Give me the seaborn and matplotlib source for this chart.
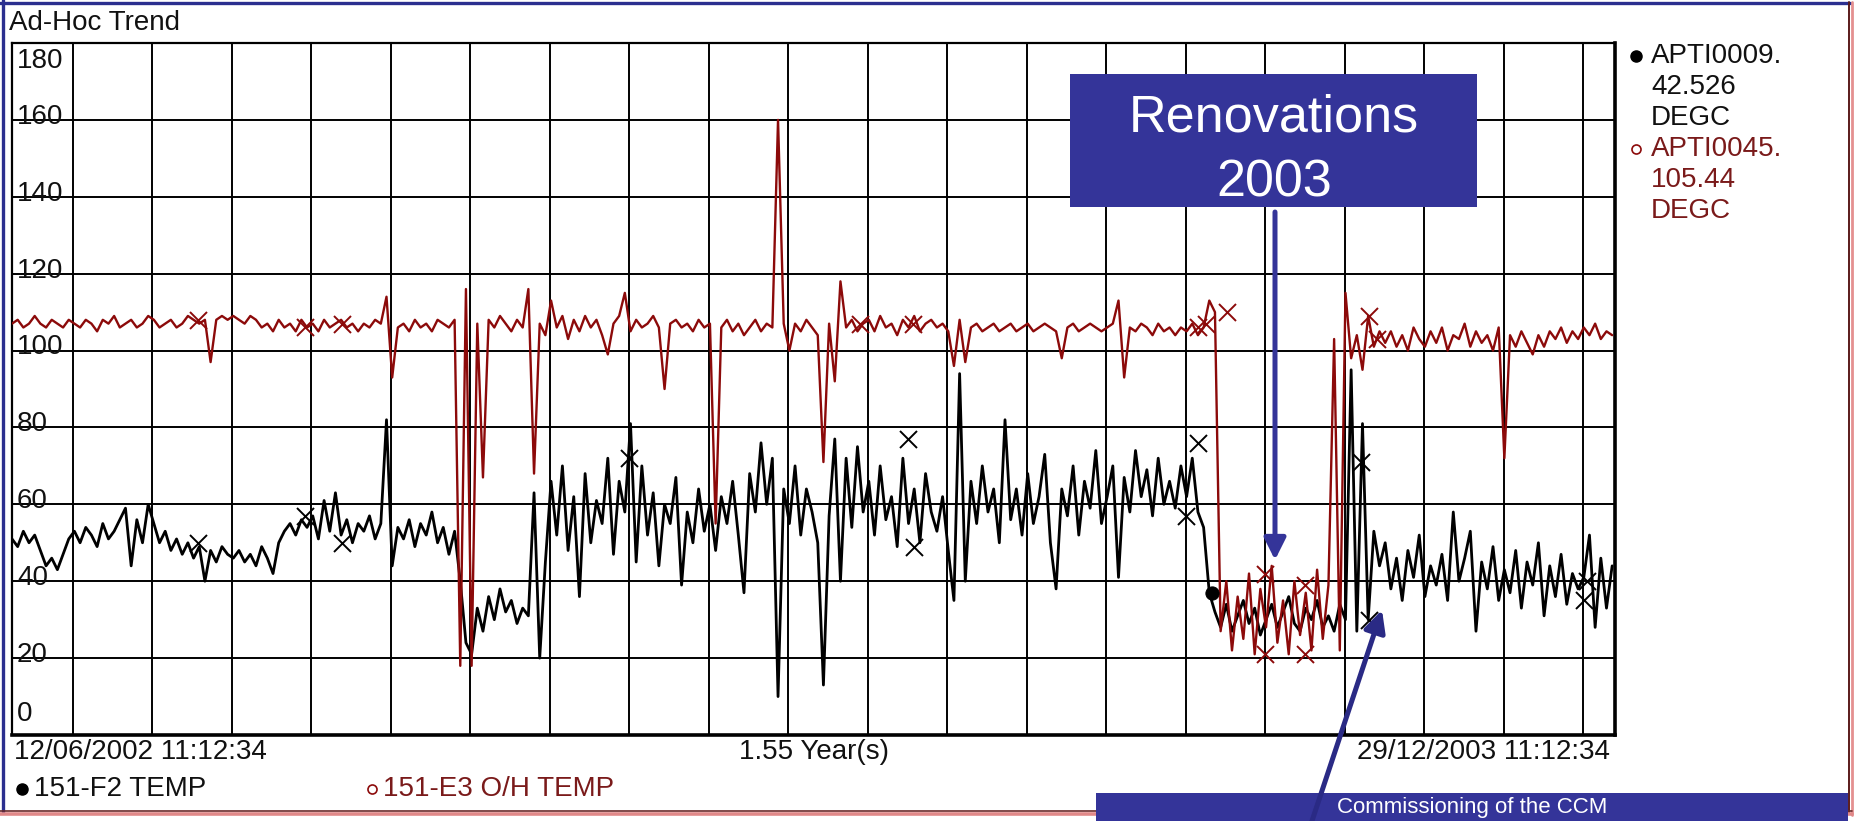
import numpy as np
import matplotlib
matplotlib.use("Agg")
import matplotlib.pyplot as plt
import seaborn as sns
from matplotlib.patches import Rectangle, FancyArrowPatch
from matplotlib.lines import Line2D

# ---------------- data ----------------
sample_step_days = 2          # one reading every 2 days from 12/06/2002
total_days = 565              # 12/06/2002 -> 29/12/2003 (1.55 years)

# 151-F2 TEMP (APTI0009, black)
f2_temp = [
    51, 49, 53, 50, 52, 48, 44, 46, 43, 47, 51,
    53, 50, 54, 52, 49, 55, 51, 53, 56, 59, 44, 56, 50, 60,
    55, 50, 53, 48, 51, 47, 50, 46, 49, 40, 48, 45, 49, 47,
    46, 48, 45, 47, 44, 49, 46, 42, 50, 53, 55, 52, 56, 54,
    57, 51, 61, 53, 63, 52, 56, 50, 55, 53, 57, 51, 55, 82,
    44, 54, 51, 56, 49, 55, 52, 58, 50, 54, 47, 53,
    40, 24, 21, 33, 27, 36, 30, 38, 32, 35, 29, 33, 31, 63, 20,
    45, 66, 52, 70, 48, 62, 36, 68, 50, 61, 55, 72, 47, 66, 58,
    81, 45, 70, 52, 63, 44, 60, 55, 67, 39, 58, 50, 64, 53,
    60, 48, 62, 55, 66, 52, 37, 68, 58, 76, 60, 72, 10, 64,
    55, 70, 52, 64, 58, 50, 13, 57, 77, 40, 72, 54, 75, 58,
    66, 52, 70, 56, 62, 49, 72, 55, 64, 50, 68, 58, 53, 62,
    48, 35, 94, 40, 66, 55, 70, 58, 64, 50, 82, 56, 64, 52,
    68, 55, 62, 73, 50, 38, 64, 57, 70, 52, 66, 59, 74, 55,
    62, 70, 41, 67, 58, 74, 62, 69, 57, 72, 60, 66, 59, 70,
    62, 72, 58, 54, 37,
    32, 28, 34, 27, 31, 35, 29, 33, 26, 30, 34, 28, 32, 36, 29, 27, 33, 30, 35, 28, 31, 27, 34, 30,
    95, 27, 81, 30, 53, 44,
    50, 38, 46, 35, 48, 41, 52,
    36, 44, 39, 47, 35, 58, 40, 46, 53, 27, 45, 38, 49, 35,
    43, 37, 48, 33, 45, 39, 50, 31, 44, 36, 47, 34, 42, 38,
    41, 52, 28, 46, 33, 44,
]

# 151-E3 O/H TEMP (APTI0045, dark red)
e3_temp = [
    107, 108, 106, 107, 109, 107, 106, 108, 107, 106, 108,
    107, 106, 108, 107, 105, 108, 107, 109, 106, 107, 108, 106, 107, 109,
    108, 106, 107, 108, 106, 107, 109, 108, 107, 108, 97, 108, 109, 108,
    109, 108, 107, 109, 108, 106, 107, 105, 108, 106, 107, 105, 108, 106,
    107, 105, 108, 106, 107, 108, 106, 107, 105, 107, 106, 108, 107, 114,
    93, 106, 107, 105, 108, 106, 107, 105, 108, 107, 106, 108,
    18, 116, 18, 107, 67, 108, 106, 109, 107, 105, 108, 106, 116, 68, 107,
    104, 113, 106, 109, 103, 108, 105, 109, 106, 108, 104, 99, 107, 109, 115,
    105, 108, 106, 107, 109, 106, 90, 107, 108, 106, 107, 105, 108, 106,
    107, 55, 106, 108, 105, 107, 104, 106, 108, 105, 107, 106, 160, 107,
    100, 107, 105, 108, 106, 104, 71, 107, 92, 118, 106, 108, 105, 107,
    108, 105, 109, 106, 107, 104, 108, 106, 109, 105, 107, 108, 106, 107,
    105, 96, 108, 97, 106, 107, 105, 106, 107, 105, 106, 107, 105, 106,
    107, 105, 106, 107, 106, 105, 98, 106, 107, 105, 106, 107, 106, 105,
    106, 107, 113, 93, 106, 105, 107, 106, 104, 107, 105, 106, 104, 106,
    105, 107, 104, 106, 113, 110,
    27, 40, 22, 36, 25, 42, 21, 38, 28, 44, 24, 35, 21, 40, 26, 37, 22, 43, 25, 39, 103, 22, 115,
    98, 104, 95, 109, 101, 105,
    102, 105, 101, 104, 100, 106, 103,
    101, 105, 102, 106, 100, 104, 103, 107, 101, 105, 102, 104, 100, 106,
    72, 104, 101, 105, 102, 99, 104, 101, 105, 103, 106, 102, 105, 103,
    106, 104, 107, 103, 105, 104,
]

# cross markers on the traces (day, value)
f2_cross_days = [65.5, 103.3, 116.2, 217.6, 315.7, 318.0, 413.8, 418.0, 475.4, 478.2, 553.9, 555.3]
f2_cross_vals = [50, 57, 50, 72, 77, 49, 57, 76, 71, 30, 35, 40]
e3_cross_days = [65.5, 103.3, 116.2, 298.9, 317.4, 418.0, 420.8, 428.3, 441.8, 441.8, 455.8, 455.8, 478.2, 481.0]
e3_cross_vals = [108, 106, 107, 107, 107, 106, 107, 110, 42, 21, 21, 39, 109, 103]
f2_dot_days = [423.0]
f2_dot_vals = [37]

y_ticks = [0, 20, 40, 60, 80, 100, 120, 140, 160, 180]
first_grid_day = 21.5
grid_spacing_days = 28.02
n_vgrid = 20

start_label = "12/06/2002 11:12:34"
span_label = "1.55 Year(s)"
end_label = "29/12/2003 11:12:34"
f2_name = "151-F2 TEMP"
e3_name = "151-E3 O/H TEMP"
f2_legend = ["APTI0009.", "42.526", "DEGC"]
e3_legend = ["APTI0045.", "105.44", "DEGC"]

# ---------------- style ----------------
sns.set_style("white")
plt.rcParams["font.family"] = ["Liberation Sans", "DejaVu Sans"]

RED = "#8C0A0A"
RED_TXT = "#7A1A1A"
NAVY = "#343499"

W, H = 1854, 821
fig = plt.figure(figsize=(W / 100, H / 100), dpi=100)
fig.patch.set_facecolor("white")


def fx(px):
    return px / W


def fy(py):
    return 1 - py / H


L, T, R, B = 12, 43, 1615, 735
ax = fig.add_axes([fx(L), fy(B), fx(R) - fx(L), fy(T) - fy(B)])
ax.set_facecolor("white")

days_f2 = np.arange(len(f2_temp)) * sample_step_days
days_e3 = np.arange(len(e3_temp)) * sample_step_days

sns.lineplot(x=days_f2, y=f2_temp, ax=ax, color="black", lw=2.0, estimator=None, zorder=3)
sns.lineplot(x=days_e3, y=e3_temp, ax=ax, color=RED, lw=1.7, estimator=None, zorder=4)
sns.scatterplot(x=f2_cross_days, y=f2_cross_vals, ax=ax, marker="x", s=150,
                color="black", linewidth=1.4, zorder=5)
sns.scatterplot(x=e3_cross_days, y=e3_cross_vals, ax=ax, marker="x", s=150,
                color=RED, linewidth=1.4, zorder=5)
sns.scatterplot(x=f2_dot_days, y=f2_dot_vals, ax=ax, marker="o", s=90,
                color="black", edgecolor="black", zorder=6)

ax.set_xlim(0, total_days)
ax.set_ylim(0, 180)
ax.set_xticks([first_grid_day + grid_spacing_days * k for k in range(n_vgrid)])
ax.set_yticks(y_ticks)
ax.grid(True, color="black", lw=1.4)
ax.set_axisbelow(True)
ax.tick_params(length=0, labelleft=False, labelbottom=False)
ax.set_xlabel("")
ax.set_ylabel("")
for side, lw in [("left", 1.6), ("top", 1.6), ("right", 2.6), ("bottom", 2.6)]:
    ax.spines[side].set_visible(True)
    ax.spines[side].set_color("black")
    ax.spines[side].set_linewidth(lw)

# y labels drawn inside the plot
for v in y_ticks:
    if v == 180:
        yy = 175.3
    elif v == 0:
        yy = 5.5
    else:
        yy = v + 0.8
    ax.text(1.8, yy, str(v), ha="left", va="center", fontsize=20, color="#111111", zorder=7)

FS = 20
fig.text(fx(9), fy(23), "Ad-Hoc Trend", ha="left", va="center", fontsize=FS, color="#111111")
fig.text(fx(14), fy(752), start_label, ha="left", va="center", fontsize=FS, color="#111111")
fig.text(fx(814), fy(752), span_label, ha="center", va="center", fontsize=FS, color="#111111")
fig.text(fx(1610), fy(752), end_label, ha="right", va="center", fontsize=FS, color="#111111")

# bottom legend
fig.add_artist(Line2D([fx(22)], [fy(789)], marker="o", markersize=8, color="black",
                      transform=fig.transFigure))
fig.text(fx(34), fy(789), f2_name, ha="left", va="center", fontsize=FS, color="#111111")
fig.add_artist(Line2D([fx(372)], [fy(789)], marker="o", markersize=6.5, markerfacecolor="white",
                      markeredgecolor=RED, markeredgewidth=1.2, transform=fig.transFigure))
fig.text(fx(383), fy(789), e3_name, ha="left", va="center", fontsize=FS, color=RED_TXT)

# right legend
rows = [56, 87, 118, 149, 180, 211]
for i, s in enumerate(f2_legend + e3_legend):
    col = "#111111" if i < 3 else RED_TXT
    fig.text(fx(1651), fy(rows[i]), s, ha="left", va="center", fontsize=FS, color=col)
fig.add_artist(Line2D([fx(1636)], [fy(rows[0])], marker="o", markersize=8, color="black",
                      transform=fig.transFigure))
fig.add_artist(Line2D([fx(1636)], [fy(rows[3])], marker="o", markersize=6.5, markerfacecolor="white",
                      markeredgecolor=RED, markeredgewidth=1.2, transform=fig.transFigure))

# outer frame of the screenshot
fig.add_artist(Line2D([0, fx(1850)], [fy(3), fy(3)], color="#2B2F8F", lw=2.4, transform=fig.transFigure))
fig.add_artist(Line2D([fx(3), fx(3)], [fy(0), fy(812)], color="#2B2F8F", lw=2.4, transform=fig.transFigure))
fig.add_artist(Line2D([fx(1849), fx(1849)], [fy(2), fy(813)], color="#5A1A1A", lw=1.4, transform=fig.transFigure))
fig.add_artist(Line2D([fx(1852), fx(1852)], [fy(2), fy(815)], color="#E49090", lw=2.0, transform=fig.transFigure))
fig.add_artist(Line2D([0, fx(1852)], [fy(811), fy(811)], color="#6A2A2A", lw=1.2, transform=fig.transFigure))
fig.add_artist(Line2D([0, fx(1852)], [fy(814), fy(814)], color="#E08888", lw=2.6, transform=fig.transFigure))

# annotation: Renovations 2003
fig.add_artist(Rectangle((fx(1070), fy(207)), fx(1477) - fx(1070), fy(74) - fy(207),
                         facecolor=NAVY, edgecolor="none", transform=fig.transFigure, zorder=10))
fig.text(fx(1274), fy(118), "Renovations", ha="center", va="center", fontsize=37.5,
         color="white", zorder=11)
fig.text(fx(1274), fy(183), "2003", ha="center", va="center", fontsize=37.5,
         color="white", zorder=11)
fig.add_artist(FancyArrowPatch((fx(1275), fy(212)), (fx(1275), fy(560)),
                               arrowstyle="-|>,head_length=1.3,head_width=0.65", mutation_scale=10,
                               color=NAVY, lw=3.6, transform=fig.transFigure, zorder=10,
                               shrinkA=0, shrinkB=0))

# annotation at the bottom edge of the slide
fig.add_artist(Rectangle((fx(1096), fy(830)), fx(1848) - fx(1096), fy(793) - fy(830),
                         facecolor=NAVY, edgecolor="none", transform=fig.transFigure, zorder=10))
fig.text(fx(1472), fy(807), "Commissioning of the CCM", ha="center", va="center",
         fontsize=16, color="white", zorder=11)
fig.add_artist(FancyArrowPatch((fx(1305), fy(842)), (fx(1382), fy(610)),
                               arrowstyle="-|>,head_length=1.3,head_width=0.65", mutation_scale=10,
                               color="#2A2A85", lw=3.6, transform=fig.transFigure, zorder=12,
                               shrinkA=0, shrinkB=0))

fig.savefig("out.png", dpi=100)
